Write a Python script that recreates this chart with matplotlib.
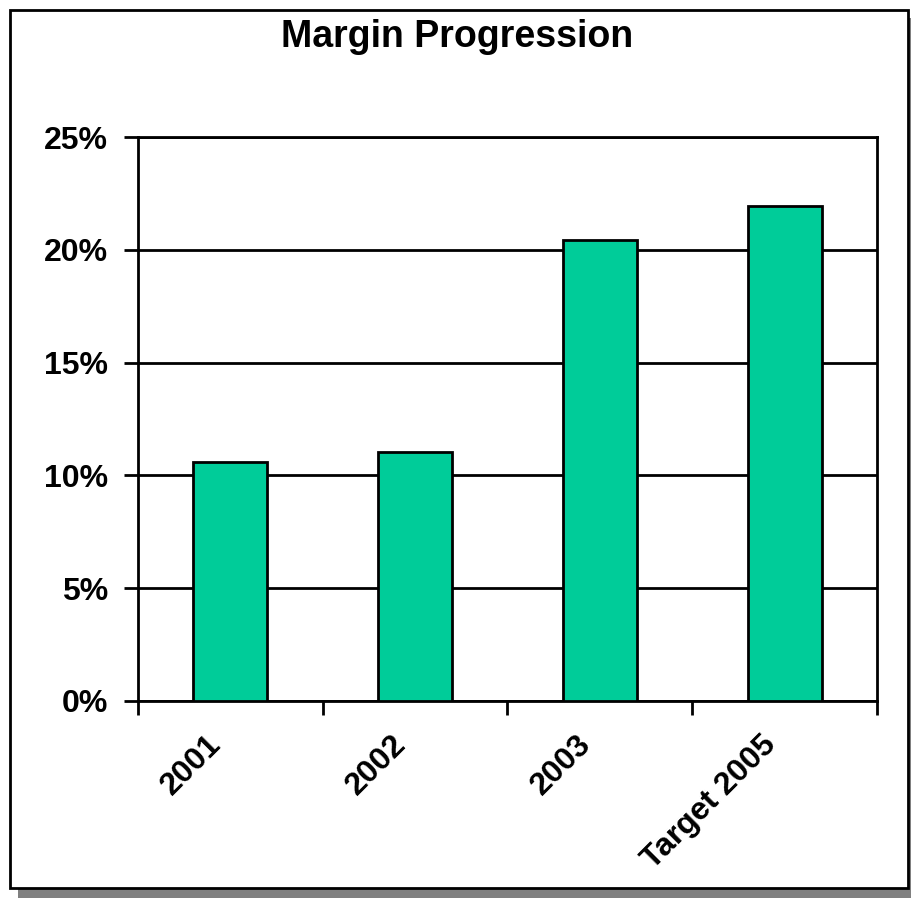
import matplotlib.pyplot as plt
from matplotlib.patches import Rectangle
from matplotlib.ticker import FuncFormatter, FixedLocator
from matplotlib.transforms import ScaledTranslation

plt.rcParams['font.family'] = ['Liberation Sans', 'DejaVu Sans']

years = ['2001', '2002', '2003', 'Target 2005']
margin = [10.6, 11.05, 20.45, 21.95]

fig = plt.figure(figsize=(9.12, 8.98), dpi=100)
W, H = 912, 898

# shadow + frame
fig.patches.append(Rectangle((18 / W, 0 / H), 894 / W, 880 / H, transform=fig.transFigure,
                             facecolor='#808080', edgecolor='none', zorder=0))
fig.patches.append(Rectangle((10 / W, 10 / H), 898 / W, 878 / H, transform=fig.transFigure,
                             facecolor='white', edgecolor='black', linewidth=2, zorder=1))

ax = fig.add_axes([138 / W, 1 - 701 / H, 739 / W, 564 / H])
ax.set_zorder(2)
x = list(range(len(years)))
ax.bar(x, margin, width=0.4, color='#00CC99', edgecolor='black', linewidth=2, zorder=3)
ax.set_xlim(-0.5, 3.5)
ax.set_ylim(0, 25)
ax.set_yticks([0, 5, 10, 15, 20, 25])
ax.yaxis.set_major_formatter(FuncFormatter(lambda v, p: f'{v:.0f}%'))
ax.yaxis.grid(True, color='black', linewidth=2)
ax.set_axisbelow(True)
for s in ax.spines.values():
    s.set_linewidth(2)
ax.tick_params(axis='y', direction='out', length=10, width=2, labelsize=23, pad=11.5)
for t in ax.get_yticklabels():
    t.set_fontweight('bold')

ax.xaxis.set_major_locator(FixedLocator([-0.5, 0.5, 1.5, 2.5, 3.5]))
ax.xaxis.set_major_formatter(FuncFormatter(lambda v, p: ''))
ax.set_xticks(x, years, minor=True)
ax.tick_params(axis='x', which='major', direction='out', length=10, width=2)
ax.tick_params(axis='x', which='minor', length=0, labelsize=23, pad=14)
shift = ScaledTranslation(-24 / 100, -9 / 100, fig.dpi_scale_trans)
for t in ax.get_xticklabels(minor=True):
    t.set_rotation(45)
    t.set_ha('right')
    t.set_va('top')
    t.set_rotation_mode('anchor')
    t.set_fontweight('bold')
    t.set_transform(t.get_transform() + shift)

fig.text(457 / W, 1 - 47 / H, 'Margin Progression', ha='center', va='baseline',
         fontsize=27, fontweight='bold')

fig.savefig('out.png', dpi=100)
